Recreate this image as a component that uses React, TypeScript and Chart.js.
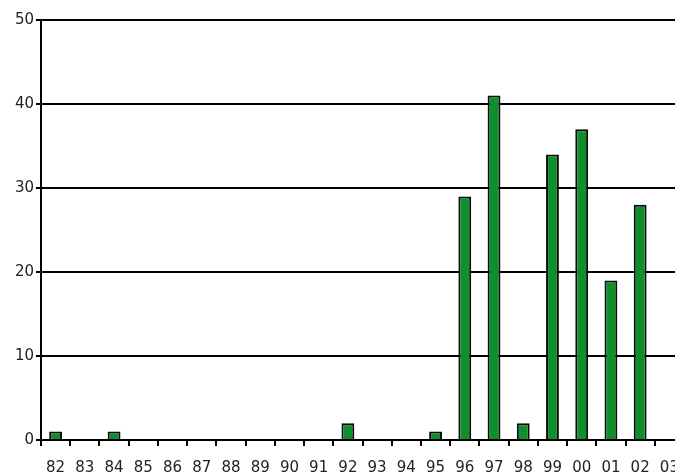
import React, { useEffect, useRef } from "react";
import { Chart, registerables } from "chart.js";
Chart.register(...registerables);

const categories = ["82","83","84","85","86","87","88","89","90","91","92","93","94","95","96","97","98","99","00","01","02","03"];
const counts = [1,0,1,0,0,0,0,0,0,0,2,0,0,1,29,41,2,34,37,19,28,0];
const yTicks = [0,10,20,30,40,50];

export default function App() {
  const ref = useRef<HTMLCanvasElement | null>(null);
  useEffect(() => {
    if (!ref.current) return;
    const font = { family: "DejaVu Sans", size: 15 };
    const chart = new Chart(ref.current, {
      type: "bar",
      data: {
        labels: categories,
        datasets: [{
          data: counts.map(v => (v === 0 ? null : v)),
          backgroundColor: "#0f8f2c",
          borderColor: "#0a0a0a",
          borderWidth: 2,
          borderSkipped: "bottom",
          barPercentage: 0.44,
          categoryPercentage: 1,
        }],
      },
      options: {
        animation: false,
        responsive: false,
        maintainAspectRatio: false,
        layout: { padding: { top: 20, right: 0, left: 0, bottom: 0 } },
        plugins: { legend: { display: false }, tooltip: { enabled: false } },
        scales: {
          x: {
            grid: { offset: true, drawOnChartArea: false, drawTicks: true, tickLength: 6, color: "#000", lineWidth: 2 },
            border: { display: true, color: "#000", width: 2 },
            ticks: { font, color: "#222", padding: 13, maxRotation: 0, autoSkip: false },
            afterFit: (s: any) => { s.height = 32; s.paddingLeft = 0; s.paddingRight = 0; },
          },
          y: {
            min: 0,
            max: 50,
            afterBuildTicks: (s: any) => { s.ticks = yTicks.map(v => ({ value: v })); },
            grid: { color: "#000", lineWidth: 2, drawTicks: true, tickLength: 5 },
            border: { display: true, color: "#000", width: 2 },
            ticks: { font, color: "#222", padding: 2 },
            afterFit: (s: any) => { s.width = 41; },
          },
        },
      },
    });
    return () => chart.destroy();
  }, []);
  return (
    <div style={{ position: "fixed", left: 0, top: 0, width: 675, height: 472, overflow: "hidden", background: "#fff" }}>
      <canvas ref={ref} width={684} height={472} style={{ display: "block" }} />
    </div>
  );
}
